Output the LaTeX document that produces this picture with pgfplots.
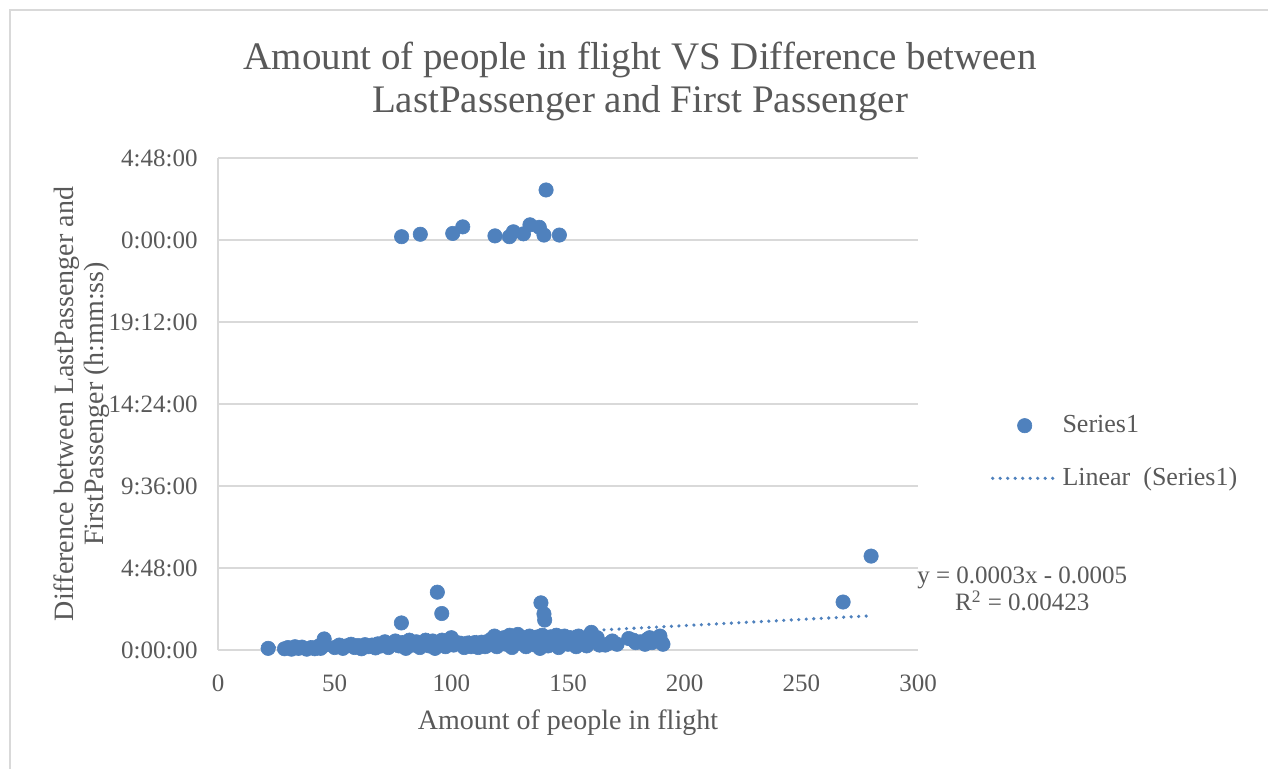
\documentclass[border=0pt]{standalone}
\usepackage{pgfplots}
\pgfplotsset{compat=1.18}
\usepackage{fontspec}
\setmainfont{Liberation Serif}
\definecolor{ptblue}{HTML}{4F81BD}
\definecolor{txtgray}{HTML}{595959}
\definecolor{gridgray}{HTML}{D9D9D9}
\pgfplotsset{
  marklegend/.style={legend image code/.code={\draw[mark repeat=2, mark phase=2, ##1]
    plot coordinates {(0pt,0pt) (16pt,0pt) (32pt,0pt)};}},
  linelegend/.style={legend image code/.code={\draw[##1] (0pt,0pt) -- (32pt,0pt);}},
  trendstyle/.style={ptblue, line width=1.8pt, line cap=round, dash pattern=on 0pt off 3.75pt},
}

\begin{document}
\begin{tikzpicture}
\useasboundingbox (0,0) rectangle (634pt,384.5pt);
% chart area frame
\draw[gridgray, line width=0.6pt] (5pt,0pt) -- (5pt,379.5pt) -- (634pt,379.5pt);
\begin{axis}[
  at={(109pt,59.5pt)}, anchor=south west,
  scale only axis, width=350pt, height=246pt,
  xmin=0, xmax=300, ymin=0, ymax=1.2,
  xtick={0,50,...,300},
  ytick={0,0.2,0.4,0.6,0.8,1.0,1.2},
  yticklabels={0:00:00,4:48:00,9:36:00,14:24:00,19:12:00,0:00:00,4:48:00},
  axis lines*=left,
  axis line style={-, gridgray, line width=0.75pt},
  ymajorgrids, grid style={gridgray, line width=0.75pt},
  major tick length=0pt,
  /pgf/number format/assume math mode=true,
  tick label style={font=\fontsize{12.5}{14}\selectfont, text=txtgray},
  xticklabel style={anchor=center, yshift=-16.5pt},
  yticklabel style={anchor=east, inner sep=0pt, xshift=-10pt},
  clip=false,
  title={Amount of people in flight VS Difference between\\LastPassenger and First Passenger},
  title style={at={(axis description cs:0.603,1.131)}, anchor=center, align=center,
    font=\fontsize{19.5}{21.5}\selectfont, text=txtgray},
  xlabel={Amount of people in flight},
  xlabel style={at={(axis description cs:0.5,-0.148)}, anchor=center,
    font=\fontsize{14}{15}\selectfont, text=txtgray},
  ylabel={Difference between LastPassenger and\\FirstPassenger (h:mm:ss)},
  ylabel style={at={(axis description cs:-0.195,0.5)}, anchor=center, align=center,
    font=\fontsize{14}{15}\selectfont, text=txtgray},
  legend style={draw=none, fill=none, at={(axis description cs:1.095,0.402)}, anchor=west,
    font=\fontsize{13}{15}\selectfont, text=txtgray, row sep=12pt},
  legend cell align=left,
]
% linear trend y = 0.0003x - 0.0005
\addplot[trendstyle, forget plot] coordinates {(21,0.0058) (280,0.0835)};

\addplot[only marks, mark=*, mark size=3.6pt,
  mark options={fill=ptblue, draw=ptblue, line width=0.3pt}, marklegend]
coordinates {
(21.5,0.004)
(28.5,0.003) (30,0.006) (31.5,0.002) (33,0.008) (34.5,0.004) (36,0.007)
(38,0.002) (40,0.006) (41.5,0.003) (43,0.009) (44,0.004) (45.5,0.027) (46,0.012)
(50,0.006) (52,0.012) (53.5,0.004) (55,0.010) (57,0.014) (58.5,0.006) (60,0.011)
(61.5,0.003) (63,0.013) (64.5,0.008) (66,0.012) (67.5,0.005) (68.5,0.015)
(70,0.010) (71.5,0.020) (73,0.006) (74.5,0.016) (76,0.022) (77.5,0.010)
(78.6,0.066) (79,0.018) (80.5,0.004) (82,0.024) (83.5,0.012) (85,0.020)
(86.5,0.006) (88,0.016) (89,0.024) (90.5,0.010) (92,0.022) (93,0.004)
(94,0.141) (94.5,0.018) (95.9,0.089) (96,0.024) (97.5,0.008) (99,0.020)
(100,0.030) (101,0.012) (102.5,0.018)
(104,0.016) (105.5,0.006) (107,0.017) (108.5,0.008) (110,0.018) (111.5,0.006)
(113,0.019) (114.5,0.008)
(116,0.012) (117,0.026) (118.5,0.034) (119.5,0.008) (121,0.020) (122.5,0.030)
(123.5,0.014) (125,0.036) (126,0.006) (127.5,0.024) (128.5,0.038) (130,0.016)
(131,0.030) (132,0.008) (133.5,0.034) (134.5,0.020) (136,0.012) (137,0.032)
(138,0.004) (138.4,0.115) (139.7,0.088) (140,0.073) (139,0.036) (140.5,0.022)
(141.5,0.010) (142.5,0.032) (144,0.018) (145,0.036) (146,0.006) (147.5,0.026)
(148.5,0.034) (150,0.014) (151,0.030) (152,0.022) (153.5,0.008) (154.5,0.034)
(156,0.018) (157,0.028) (158,0.010) (159.5,0.036) (160,0.043) (161,0.020)
(162.5,0.030) (163.5,0.012)
(166,0.012) (168,0.017) (169,0.022) (171,0.014) (176,0.028) (178,0.024)
(179,0.018) (181,0.020) (183,0.014) (184,0.026) (185,0.030) (186,0.018)
(188,0.022) (189.4,0.034) (190,0.020) (190.7,0.014)
(267.9,0.117) (279.9,0.229)
(78.7,1.008) (86.7,1.014) (100.6,1.016) (104.9,1.032) (118.7,1.010)
(124.9,1.008) (126.6,1.020) (130.9,1.015) (133.7,1.037) (137.7,1.031)
(139.7,1.012) (146.3,1.012) (140.6,1.122)
};
\addlegendentry{Series1}

% legend entry for the trend line
\addlegendimage{trendstyle, linelegend}
\addlegendentry{Linear\ \ (Series1)}

\node[align=center, font=\fontsize{12.5}{12}\selectfont, text=txtgray]
  at (rel axis cs:1.149,0.124) {y = 0.0003x - 0.0005\\R\textsuperscript{2} = 0.00423};
\end{axis}
\end{tikzpicture}
\end{document}
